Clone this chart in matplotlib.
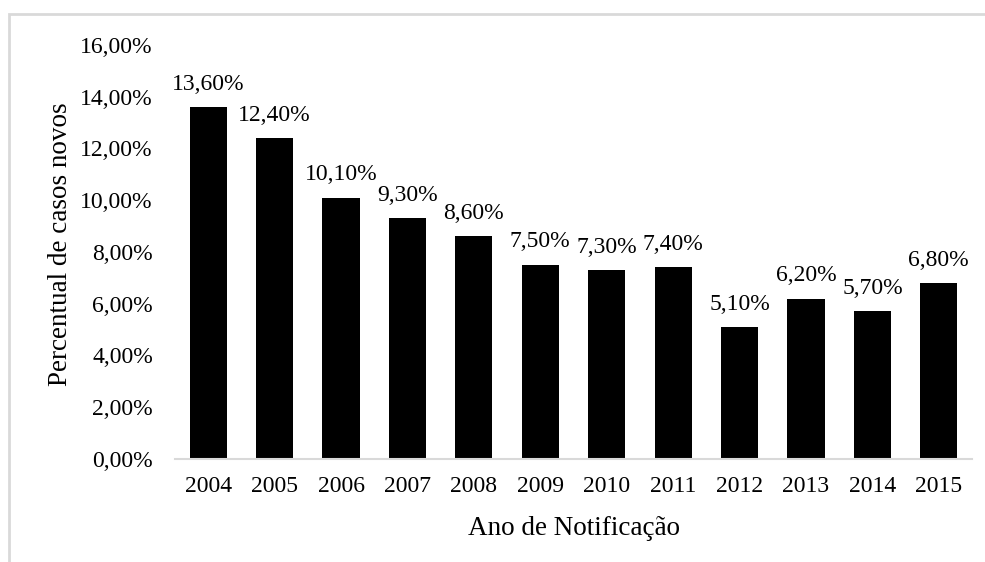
import matplotlib
matplotlib.use("Agg")
import matplotlib.pyplot as plt
from matplotlib.patches import Rectangle
from matplotlib.ticker import FuncFormatter

plt.rcParams['font.family'] = ['Liberation Serif', 'DejaVu Serif']

anos = ['2004', '2005', '2006', '2007', '2008', '2009',
        '2010', '2011', '2012', '2013', '2014', '2015']
percentual = [13.6, 12.4, 10.1, 9.3, 8.6, 7.5, 7.3, 7.4, 5.1, 6.2, 5.7, 6.8]


def pt_br(v):
    return f'{v:.2f}'.replace('.', ',') + '%'


fig = plt.figure(figsize=(9.85, 5.62), dpi=100)
ax = fig.add_axes([0.1777, 0.1833, 0.8091, 0.7367])

bars = ax.bar(anos, percentual, width=0.56, color='black')
for b, v in zip(bars, percentual):
    ax.annotate(pt_br(v), (b.get_x() + b.get_width() / 2, v),
                xytext=(0, 9), textcoords='offset points',
                ha='center', va='bottom', fontsize=17)

ax.set_ylim(0, 16)
ax.set_yticks(range(0, 17, 2))
ax.yaxis.set_major_formatter(FuncFormatter(lambda v, p: pt_br(v)))
ax.set_xlim(-0.5, len(anos) - 0.5)

for s in ['top', 'right', 'left']:
    ax.spines[s].set_visible(False)
ax.spines['bottom'].set_color('#d9d9d9')
ax.spines['bottom'].set_linewidth(1.5)
ax.tick_params(axis='both', length=0, labelsize=17)
ax.tick_params(axis='y', pad=16)
ax.tick_params(axis='x', pad=12)

ax.set_ylabel('Percentual de casos novos', fontsize=19.5)
ax.set_xlabel('Ano de Notificação', fontsize=19.5, labelpad=14)
ax.yaxis.set_label_coords(-0.128, 0.52)

# moldura cinza da área do gráfico
fig.patches.append(Rectangle((9 / 985, -0.2), 1.2, 1 - 14 / 562 + 0.2,
                             transform=fig.transFigure, fill=False,
                             edgecolor='#d9d9d9', linewidth=2, zorder=0))

fig.savefig('out.png', dpi=100)
